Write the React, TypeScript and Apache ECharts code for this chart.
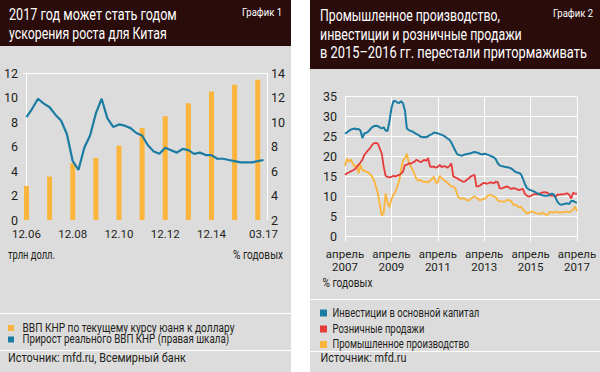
import React, { useEffect, useRef } from "react";
import * as echarts from "echarts";

const FONT = "Roboto";
const TXT = "#231f20";
const HEAD = "#2a0c0b";
const PANEL = "#dcdcdc";

// ---------- Chart 1 ----------
const ch1Title = ["2017 год может стать годом", "ускорения роста для Китая"];
const ch1Tag = "График 1";
const ch1BarYears = [2006, 2007, 2008, 2009, 2010, 2011, 2012, 2013, 2014, 2015, 2016];
const ch1GdpUsd = [2.78, 3.55, 4.62, 5.07, 6.07, 7.5, 8.47, 9.53, 10.48, 11.05, 11.45];
// quarterly, from Q4 2006 to Q1 2017
const ch1Growth = [
  10.4,
  11.1, 11.9, 11.5, 11.2,
  10.6, 10.1, 9.0, 6.8,
  6.1, 7.9, 8.9, 10.7,
  11.9, 10.3, 9.6, 9.8,
  9.7, 9.5, 9.1, 8.9,
  8.1, 7.6, 7.4, 7.9,
  7.7, 7.5, 7.8, 7.7,
  7.4, 7.5, 7.3, 7.3,
  7.0, 7.0, 6.9, 6.8,
  6.7, 6.7, 6.7, 6.8,
  6.9,
];
const ch1TickIdx = [0, 8, 16, 24, 32, 41];
const ch1TickLabels = ["12.06", "12.08", "12.10", "12.12", "12.14", "03.17"];
const ch1Names = ["ВВП КНР по текущему курсу юаня к доллару", "Прирост реального ВВП КНР (правая шкала)"];
const ch1Units = ["трлн долл.", "% годовых"];
const ch1Source = "Источник: mfd.ru, Всемирный банк";

// ---------- Chart 2 ----------
const ch2Title = ["Промышленное производство,", "инвестиции и розничные продажи", "в 2015–2016 гг. перестали притормаживать"];
const ch2Tag = "График 2";
const ch2TickLabels = ["апрель\n2007", "апрель\n2009", "апрель\n2011", "апрель\n2013", "апрель\n2015", "апрель\n2017"];
// monthly, April 2007 .. April 2017
const ch2Invest = [
  25.7, 26.0, 26.4, 26.7, 26.9, 27.0, 26.8, 26.9, 26.5,
  24.6, 25.8, 25.9, 26.2, 26.8, 27.3, 27.6, 27.7, 27.6, 27.3, 27.0, 27.3,
  26.5, 26.4, 28.8, 32.0, 33.8, 33.9, 33.5, 33.4, 33.8, 33.3, 31.5, 27.0,
  26.6, 26.4, 26.2, 25.9, 25.6, 25.4, 25.0, 24.8, 24.9, 24.8, 25.1, 25.4,
  25.6, 26.0, 25.9, 25.8, 25.6, 25.4, 25.2, 24.9, 24.5, 24.2, 23.5, 22.5,
  21.5, 20.6, 20.4, 20.2, 20.3, 20.5, 20.6, 20.7, 20.8, 21.0, 21.1, 21.0,
  20.9, 20.6, 20.5, 20.7, 20.6, 20.4, 20.2, 20.0, 19.8, 19.3, 18.3, 17.8,
  17.6, 17.5, 17.4, 17.3, 17.2, 17.0, 16.6, 16.2, 16.0, 15.9, 15.6, 14.5,
  13.2, 12.2, 11.8, 11.6, 11.4, 11.2, 10.9, 10.7, 10.5, 10.3, 10.2, 10.2,
  10.2, 10.5, 10.7, 10.5, 9.6, 8.6, 8.1, 7.9, 8.1, 8.2, 8.3, 8.1,
  8.9, 8.9, 8.6, 8.4,
];
const ch2Retail = [
  15.4, 15.8, 16.0, 16.3, 16.5, 16.8, 17.3, 17.9, 18.5,
  19.2, 20.4, 21.0, 21.6, 22.1, 22.9, 23.3, 23.4, 23.2, 22.0, 20.8, 17.5,
  15.2, 14.9, 14.8, 14.9, 15.2, 15.0, 15.2, 15.4, 15.7, 16.2, 17.9, 17.9,
  18.3, 18.2, 18.5, 18.7, 19.2, 18.9, 18.6, 18.8, 19.2, 18.9, 19.6, 17.5,
  17.4, 17.5, 17.2, 17.4, 17.9, 17.3, 17.6, 17.5, 17.2, 17.6, 18.3, 15.0,
  14.8, 14.6, 14.2, 14.0, 13.7, 13.7, 14.2, 14.5, 15.0, 15.2, 15.4, 12.5,
  12.6, 12.8, 13.2, 13.4, 13.2, 13.3, 13.5, 13.5, 13.3, 13.7, 13.6, 12.1,
  12.0, 12.2, 12.4, 12.5, 12.2, 11.9, 12.1, 12.0, 11.8, 11.6, 11.8, 11.9,
  10.7, 10.2, 10.0, 10.1, 10.4, 10.6, 10.6, 10.5, 10.8, 11.0, 11.1, 11.0,
  10.9, 10.2, 10.3, 10.2, 10.0, 10.5, 10.4, 10.6, 10.5, 10.7, 10.8, 10.4,
  9.5, 10.9, 10.7, 10.7,
];
const ch2Industry = [
  17.6, 19.5, 18.6, 19.3, 18.2, 17.4, 17.8, 15.8, 17.9,
  16.6, 16.4, 16.2, 16.0, 15.5, 15.0, 14.0, 12.5, 10.8, 8.0, 5.2, 5.8,
  10.8, 8.5, 7.3, 9.3, 10.4, 11.0, 12.5, 13.8, 16.8, 19.0, 19.5, 20.7,
  18.5, 17.5, 16.7, 15.5, 14.4, 13.9, 14.2, 13.8, 13.6, 13.7, 13.5, 14.0,
  14.3, 15.0, 13.4, 13.5, 15.2, 14.6, 14.2, 13.8, 13.4, 12.9, 12.6, 12.4,
  12.1, 10.5, 9.6, 9.5, 9.6, 9.4, 9.1, 9.0, 9.4, 9.8, 10.0, 9.7,
  9.3, 9.0, 9.3, 9.4, 9.7, 10.2, 10.4, 10.2, 10.0, 9.8, 9.0, 8.8,
  8.8, 8.7, 8.8, 9.2, 9.0, 8.9, 7.9, 8.0, 7.7, 7.2, 7.5, 6.7,
  6.4, 5.7, 5.9, 6.1, 6.3, 6.0, 5.8, 5.7, 5.6, 6.0, 5.7, 5.4,
  5.5, 6.2, 6.0, 6.0, 6.2, 6.0, 6.1, 6.0, 6.1, 6.1, 6.2, 6.0,
  6.3, 6.8, 7.5, 6.3,
];
const ch2Names = ["Инвестиции в основной капитал", "Розничные продажи", "Промышленное производство"];
const ch2Unit = "% годовых";
const ch2Source = "Источник: mfd.ru";

const BLUE = "#1b7ca3";
const RED = "#e63b3b";
const YELLOW = "#fbb53c";

let measureCtx: CanvasRenderingContext2D | null = null;
function measure(text: string, size: number): number {
  if (!measureCtx) measureCtx = document.createElement("canvas").getContext("2d");
  if (!measureCtx) return text.length * size * 0.5;
  measureCtx.font = `${size}px ${FONT}`;
  return measureCtx.measureText(text).width;
}

// text fitted horizontally to a target width (condensed look of the original)
function ftxt(x: number, y: number, text: string, size: number, fill: string, width: number, align = "left") {
  const sx = Math.min(1, width / measure(text, size));
  return {
    type: "text", x, y, z: 10, scaleX: sx,
    style: { text, fill, fontSize: size, fontFamily: FONT, textAlign: align, textVerticalAlign: "middle" },
  };
}

function legendItem(x: number, y: number, color: string, iconSize: number, textX: number, text: string, width: number) {
  return [
    { type: "rect", z: 10, shape: { x, y: y - iconSize / 2, width: iconSize, height: iconSize }, style: { fill: color } },
    ftxt(textX, y, text, 12, TXT, width),
  ];
}

export default function App() {
  const ref = useRef<HTMLDivElement>(null);
  useEffect(() => {
    if (!ref.current) return;
    const chart = echarts.init(ref.current, undefined, { renderer: "svg" });
    const toPairs = (arr: number[]) => arr.map((v, i) => [i, v]);
    const white = { stroke: "#fff", lineWidth: 1 };
    const option: any = {
      animation: false,
      textStyle: { fontFamily: FONT },
      graphic: [
        { type: "rect", z: -10, shape: { x: 0, y: 0, width: 291, height: 372 }, style: { fill: PANEL } },
        { type: "rect", z: -10, shape: { x: 310, y: 0, width: 290, height: 372 }, style: { fill: PANEL } },
        { type: "rect", z: -9, shape: { x: 0, y: 0, width: 291, height: 46 }, style: { fill: HEAD } },
        { type: "rect", z: -9, shape: { x: 310, y: 0, width: 290, height: 69 }, style: { fill: HEAD } },
        { type: "line", z: -9, shape: { x1: 0, y1: 313.5, x2: 291, y2: 313.5 }, style: white },
        { type: "line", z: -9, shape: { x1: 0, y1: 350.5, x2: 291, y2: 350.5 }, style: white },
        { type: "line", z: -9, shape: { x1: 310, y1: 299.5, x2: 600, y2: 299.5 }, style: white },
        { type: "line", z: -9, shape: { x1: 310, y1: 351.5, x2: 600, y2: 351.5 }, style: white },
        { type: "line", z: -9, shape: { x1: 23, y1: 73.5, x2: 267, y2: 73.5 }, style: white },
        ftxt(9, 15.5, ch1Title[0], 16, "#fff", 168),
        ftxt(9, 33.5, ch1Title[1], 16, "#fff", 158),
        ftxt(282, 12, ch1Tag, 11, "#fff", 40, "right"),
        ftxt(320, 15.5, ch2Title[0], 16, "#fff", 180),
        ftxt(320, 34, ch2Title[1], 16, "#fff", 202),
        ftxt(320, 53, ch2Title[2], 16, "#fff", 267),
        ftxt(593, 13, ch2Tag, 11, "#fff", 40, "right"),
        ftxt(8, 255, ch1Units[0], 12, TXT, 47),
        ftxt(283, 255, ch1Units[1], 12, TXT, 50, "right"),
        ftxt(322.5, 283, ch2Unit, 12, TXT, 50),
        ftxt(8, 357.5, ch1Source, 12, TXT, 178),
        ftxt(320.5, 357.5, ch2Source, 12, TXT, 86),
        ...legendItem(8, 328, YELLOW, 6, 22.5, ch1Names[0], 212),
        ...legendItem(8, 339.5, BLUE, 6, 22.5, ch1Names[1], 207),
        ...legendItem(320, 313, BLUE, 7, 332.5, ch2Names[0], 147),
        ...legendItem(320, 329, RED, 7, 332.5, ch2Names[1], 92),
        ...legendItem(320, 344.5, YELLOW, 7, 332.5, ch2Names[2], 137),
      ],
      grid: [
        { left: 23, top: 73, width: 244, height: 147 },
        { left: 345, top: 96.5, width: 232, height: 140 },
      ],
      xAxis: [
        {
          gridIndex: 0, type: "value", min: -0.6, max: 41.6,
          axisLine: { show: false }, axisTick: { show: false }, splitLine: { show: false },
          axisLabel: {
            customValues: ch1TickIdx,
            formatter: (v: number) => ch1TickLabels[ch1TickIdx.indexOf(Math.round(v))] ?? "",
            color: TXT, fontSize: 11.5, fontFamily: FONT, margin: 8,
          },
        },
        {
          gridIndex: 1, type: "value", min: 0, max: 120, interval: 24,
          axisLine: { show: false },
          axisTick: { show: true, length: 5, lineStyle: { color: "#fff", width: 1 } },
          splitLine: { show: true, lineStyle: { color: "#fff", width: 1 } },
          axisLabel: {
            formatter: (v: number) => ch2TickLabels[Math.round(v / 24)] ?? "",
            color: TXT, fontSize: 11.5, fontFamily: FONT, lineHeight: 13, margin: 11,
          },
        },
      ],
      yAxis: [
        {
          gridIndex: 0, type: "value", min: 0, max: 12, interval: 2, position: "left",
          axisLine: { show: true, lineStyle: { color: "#fff" } }, axisTick: { show: false },
          splitLine: { show: false },
          axisLabel: { color: TXT, fontSize: 12.5, fontFamily: FONT, margin: 5 },
        },
        {
          gridIndex: 0, type: "value", min: 2, max: 14, interval: 2, position: "right",
          axisLine: { show: true, lineStyle: { color: "#fff" } }, axisTick: { show: false },
          splitLine: { show: false },
          axisLabel: { color: TXT, fontSize: 12.5, fontFamily: FONT, margin: 4 },
        },
        {
          gridIndex: 1, type: "value", min: 0, max: 35, interval: 5,
          axisLine: { show: false }, axisTick: { show: false },
          splitLine: { show: true, lineStyle: { color: "#fff", width: 1 } },
          axisLabel: { color: TXT, fontSize: 12.5, fontFamily: FONT, margin: 8 },
        },
      ],
      series: [
        {
          name: ch1Names[0], type: "bar", xAxisIndex: 0, yAxisIndex: 0, barWidth: 5,
          itemStyle: { color: YELLOW },
          data: ch1BarYears.map((y, i) => [(y - 2006) * 4, ch1GdpUsd[i]]),
        },
        {
          name: ch1Names[1], type: "line", xAxisIndex: 0, yAxisIndex: 1, showSymbol: false,
          itemStyle: { color: BLUE }, lineStyle: { color: BLUE, width: 2.2 },
          data: toPairs(ch1Growth),
        },
        {
          name: ch2Names[2], type: "line", xAxisIndex: 1, yAxisIndex: 2, showSymbol: false,
          itemStyle: { color: YELLOW }, lineStyle: { color: YELLOW, width: 1.8 },
          data: toPairs(ch2Industry),
        },
        {
          name: ch2Names[1], type: "line", xAxisIndex: 1, yAxisIndex: 2, showSymbol: false,
          itemStyle: { color: RED }, lineStyle: { color: RED, width: 1.8 },
          data: toPairs(ch2Retail),
        },
        {
          name: ch2Names[0], type: "line", xAxisIndex: 1, yAxisIndex: 2, showSymbol: false,
          itemStyle: { color: BLUE }, lineStyle: { color: BLUE, width: 2 },
          data: toPairs(ch2Invest),
        },
      ],
    };
    chart.setOption(option);
    return () => chart.dispose();
  }, []);
  return (
    <div style={{ position: "fixed", left: 0, top: 0, width: 600, height: 372, background: "#fff" }}>
      <div ref={ref} style={{ width: 600, height: 372 }} />
    </div>
  );
}
